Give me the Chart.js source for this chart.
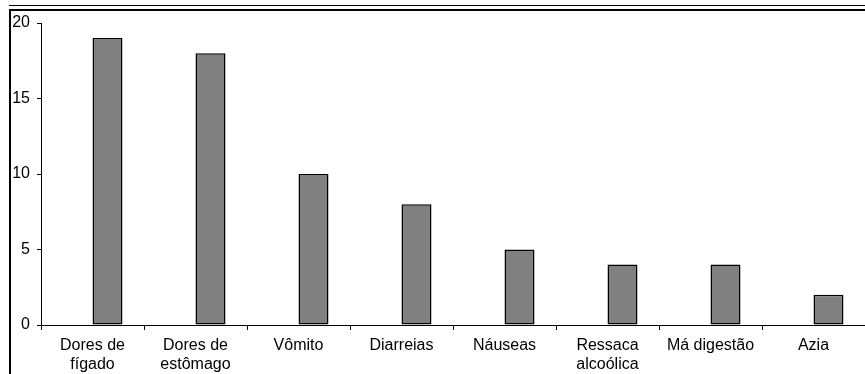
<!DOCTYPE html>
<html>
<head>
<meta charset="utf-8">
<script src="https://cdn.jsdelivr.net/npm/chart.js@4.4.1/dist/chart.umd.min.js"></script>
<style>
  html, body { margin: 0; padding: 0; background: #fff; }
  #wrap { width: 865px; height: 374px; position: relative; }
</style>
</head>
<body>
<div id="wrap"><canvas id="barChart"></canvas></div>
<script>
const categories = [
  ['Dores de', 'fígado'],
  ['Dores de', 'estômago'],
  'Vômito',
  'Diarreias',
  'Náuseas',
  ['Ressaca', 'alcoólica'],
  'Má digestão',
  'Azia'
];
const counts = [19, 18, 10, 8, 5, 4, 4, 2];
const yTicks = [0, 5, 10, 15, 20];

// frame lines around the chart (double rule on top, single on the left)
const framePlugin = {
  id: 'frame',
  afterDraw(chart) {
    const ctx = chart.ctx;
    const w = chart.width, h = chart.height;
    ctx.save();
    ctx.strokeStyle = '#000';
    ctx.lineWidth = 1;
    ctx.beginPath();
    ctx.moveTo(9, 5.5);
    ctx.lineTo(w, 5.5);
    ctx.stroke();
    ctx.lineWidth = 2;
    ctx.beginPath();
    ctx.moveTo(9, 10);
    ctx.lineTo(w, 10);
    ctx.moveTo(10, 9);
    ctx.lineTo(10, h);
    ctx.stroke();
    ctx.restore();
  }
};

const font = { family: 'Liberation Sans, Arial, sans-serif', size: 16 };

new Chart(document.getElementById('barChart'), {
  type: 'bar',
  data: {
    labels: categories,
    datasets: [
      // empty slot so the bars sit right of the category centre
      { label: '', data: [] },
      {
        label: 'Contagem',
        data: counts,
        backgroundColor: '#808080',
        borderColor: '#000',
        borderWidth: 1.5,
        borderSkipped: false
      }
    ]
  },
  options: {
    responsive: true,
    maintainAspectRatio: false,
    animation: false,
    devicePixelRatio: 1,
    layout: { padding: { left: 11, top: 23, right: 0, bottom: 0 } },
    datasets: {
      bar: { categoryPercentage: 0.5825, barPercentage: 1 }
    },
    plugins: {
      legend: { display: false },
      tooltip: { enabled: false }
    },
    scales: {
      x: {
        offset: true,
        grid: {
          offset: true,
          drawOnChartArea: false,
          drawTicks: true,
          tickLength: 5,
          color: '#000'
        },
        border: { color: '#000', width: 1 },
        ticks: {
          color: '#000',
          font: font,
          padding: 6,
          maxRotation: 0,
          autoSkip: false
        },
        afterFit(scale) { scale.height = 49; }
      },
      y: {
        min: 0,
        max: 20,
        afterBuildTicks(scale) {
          scale.ticks = yTicks.map(v => ({ value: v }));
        },
        grid: {
          drawOnChartArea: false,
          drawTicks: true,
          tickLength: 4,
          color: '#000'
        },
        border: { color: '#000', width: 1 },
        ticks: {
          color: '#000',
          font: font,
          padding: 7
        },
        afterFit(scale) { scale.width = 30; }
      }
    }
  },
  plugins: [framePlugin]
});
</script>
</body>
</html>
